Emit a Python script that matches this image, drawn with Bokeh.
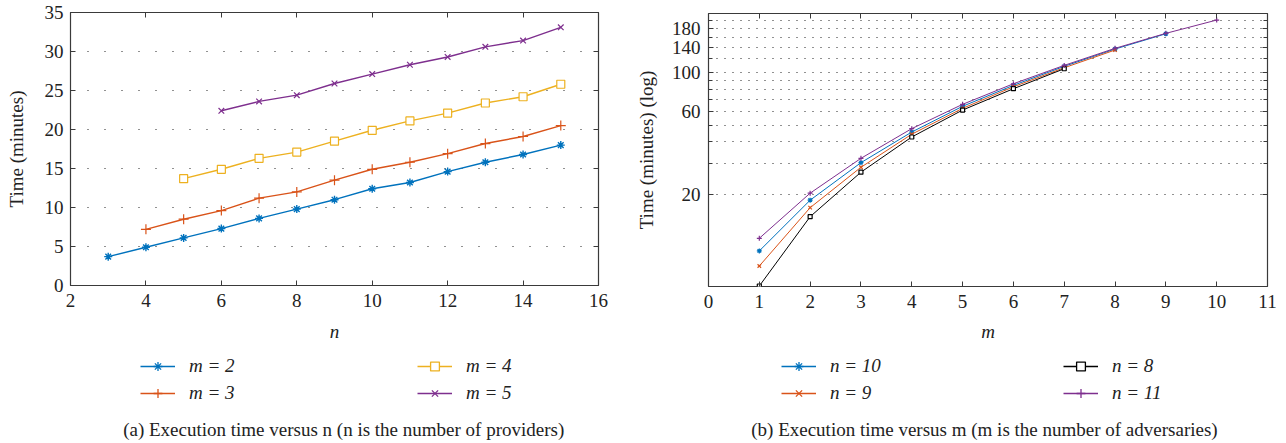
from bokeh.plotting import figure
from bokeh.models import (Legend, LegendItem, LinearAxis, Range1d, FixedTicker,
                          CustomJSTickFormatter, BasicTickFormatter)
from bokeh.layouts import row, column
from bokeh.core.properties import value
from bokeh.embed import file_html
from bokeh.resources import INLINE

SERIF = "Liberation Serif"
FS = "19px"
TXT = "#222222"
NAN = float("nan")

# ---------------- data: panel (a) ----------------
n_m2 = [3, 4, 5, 6, 7, 8, 9, 10, 11, 12, 13, 14, 15]
t_m2 = [3.7, 4.9, 6.1, 7.3, 8.6, 9.8, 11.0, 12.4, 13.2, 14.6, 15.8, 16.8, 18.0]
n_m3 = [4, 5, 6, 7, 8, 9, 10, 11, 12, 13, 14, 15]
t_m3 = [7.2, 8.5, 9.6, 11.2, 12.0, 13.5, 14.9, 15.8, 16.9, 18.2, 19.1, 20.5]
n_m4 = [5, 6, 7, 8, 9, 10, 11, 12, 13, 14, 15]
t_m4 = [13.7, 14.9, 16.3, 17.1, 18.5, 19.9, 21.1, 22.1, 23.4, 24.2, 25.8]
n_m5 = [6, 7, 8, 9, 10, 11, 12, 13, 14, 15]
t_m5 = [22.4, 23.6, 24.4, 25.9, 27.1, 28.3, 29.3, 30.6, 31.4, 33.1]
xticks_a = [2, 4, 6, 8, 10, 12, 14, 16]
yticks_a = [0, 5, 10, 15, 20, 25, 30, 35]
labels_a = ["m = 2", "m = 3", "m = 4", "m = 5"]
caption_a = "(a)  Execution time versus n (n is the number of providers)"

# ---------------- data: panel (b) ----------------
m_n10 = [1, 2, 3, 4, 5, 6, 7, 8, 9]
t_n10 = [9.45, 18.5, 30.4, 45.6, 64.1, 84.6, 108.8, 136.8, 167.5]
m_n9 = [1, 2, 3, 4, 5, 6, 7, 8]
t_n9 = [7.74, 16.75, 28.6, 44.3, 62.4, 83.0, 106.8, 135.0]
m_n8 = [1, 2, 3, 4, 5, 6, 7]
t_n8 = [5.94, 14.87, 26.8, 42.7, 61.0, 80.9, 105.4]
m_n11 = [1, 2, 3, 4, 5, 6, 7, 8, 9, 10]
t_n11 = [11.17, 20.3, 32.2, 47.7, 65.8, 86.4, 110.2, 138.1, 168.4, 200.8]
xticks_b = [0, 1, 2, 3, 4, 5, 6, 7, 8, 9, 10, 11]
yticks_b = [20, 60, 100, 140, 180]
yminor_b = [30, 40, 50, 70, 80, 90, 120, 160, 200]
labels_b = ["n = 10", "n = 9", "n = 8", "n = 11"]
caption_b = "(b)  Execution time versus m (m is the number of adversaries)"

BLUE, RED, YELLOW, PURPLE, BLACK = "#0072BD", "#D95319", "#EDB120", "#7E2F8E", "#000000"
FRAME = "#3a3a3a"


def style_axes(p):
    for ax in p.xaxis + p.yaxis:
        ax.axis_line_color = None
        ax.major_tick_in = 5
        ax.major_tick_out = 0
        ax.minor_tick_in = 0
        ax.minor_tick_out = 0
        ax.major_tick_line_color = FRAME
        ax.major_label_text_font = SERIF
        ax.major_label_text_font_size = FS
        ax.major_label_text_color = TXT
        ax.axis_label_text_font = SERIF
        ax.axis_label_text_font_size = FS
        ax.axis_label_text_color = TXT
    p.outline_line_color = FRAME
    p.outline_line_width = 1.2
    p.outline_line_alpha = 1


def mirror(p, side, ticks, minor=None, minor_len=0):
    ax = LinearAxis(ticker=FixedTicker(ticks=ticks, minor_ticks=minor or []),
                    formatter=CustomJSTickFormatter(code="return ''"),
                    major_label_text_font_size="0px", major_label_standoff=0,
                    major_tick_in=5, major_tick_out=0,
                    minor_tick_in=minor_len, minor_tick_out=0,
                    major_tick_line_color=FRAME, minor_tick_line_color=FRAME,
                    axis_line_color=None)
    p.add_layout(ax, side)


def legend_panel(width, height, specs, labels, label_width, lx, ly, caption, cx, cy):
    """A small axis-free canvas below a plot holding its two-column legend and caption."""
    q = figure(width=width, height=height, x_range=Range1d(0, width),
               y_range=Range1d(0, height), output_backend="svg",
               toolbar_location=None, min_border=0,
               x_axis_location=None, y_axis_location=None)
    q.grid.visible = False
    q.outline_line_color = None
    items = []
    for (color, marker, size, fill), lab in zip(specs, labels):
        # legend proxies (NaN data: nothing is drawn in the canvas itself)
        ln = q.line([NAN], [NAN], color=color, line_width=1.4)
        sc = q.scatter([NAN], [NAN], marker=marker, size=size, line_color=color,
                       fill_color=fill, line_width=1.3)
        items.append(LegendItem(label=lab, renderers=[ln, sc]))
    leg = Legend(items=items, location=(lx, ly), orientation="vertical", nrows=2,
                 glyph_width=35, glyph_height=22, label_height=22,
                 label_width=label_width, label_standoff=14, spacing=5,
                 padding=0, margin=0, border_line_color=None,
                 background_fill_alpha=0, label_text_font=SERIF,
                 label_text_font_size=FS, label_text_font_style="italic",
                 label_text_color=TXT)
    q.add_layout(leg, "center")
    q.text(x=[cx], y=[cy], text=[caption], text_font=value(SERIF),
           text_font_size=FS, text_color=TXT, text_baseline="alphabetic",
           text_align="left")
    return q


# ================= panel (a) =================
p1 = figure(width=632, height=347, x_range=Range1d(2, 16),
            y_range=Range1d(0, 35), output_backend="svg", toolbar_location=None,
            min_border_left=70, min_border_right=34, min_border_top=12,
            min_border_bottom=62)
p1.xaxis.ticker = FixedTicker(ticks=xticks_a)
p1.yaxis.ticker = FixedTicker(ticks=yticks_a)
p1.xaxis.axis_label = "n"
p1.xaxis.axis_label_text_font_style = "italic"
p1.yaxis.axis_label = "Time (minutes)"
p1.yaxis.axis_label_text_font_style = "normal"
style_axes(p1)
p1.xaxis.major_label_standoff = 8
p1.xaxis.axis_label_standoff = 11
p1.yaxis.major_label_standoff = 7
p1.yaxis.axis_label_standoff = 15
p1.xgrid.visible = False
p1.ygrid.grid_line_color = "#222222"
p1.ygrid.grid_line_dash = "1 16"
p1.ygrid.grid_line_width = 1.2
mirror(p1, "above", xticks_a)
mirror(p1, "right", yticks_a)

lw = 1.4
p1.line(n_m2, t_m2, color=BLUE, line_width=lw)
p1.scatter(n_m2, t_m2, marker="asterisk", size=8, line_color=BLUE, line_width=1.4)
p1.line(n_m3, t_m3, color=RED, line_width=lw)
p1.scatter(n_m3, t_m3, marker="cross", size=10, line_color=RED, line_width=1.2)
p1.line(n_m4, t_m4, color=YELLOW, line_width=lw)
p1.scatter(n_m4, t_m4, marker="square", size=8, line_color=YELLOW,
           fill_color="white", line_width=1.2)
p1.line(n_m5, t_m5, color=PURPLE, line_width=lw)
p1.scatter(n_m5, t_m5, marker="x", size=8, line_color=PURPLE, line_width=1.2)

q1 = legend_panel(632, 96,
                  [(BLUE, "asterisk", 10, None), (RED, "cross", 12, None),
                   (YELLOW, "square", 9, "white"), (PURPLE, "x", 9, None)],
                  labels_a, 223, 70, 39, caption_a, 63, 14)

# ================= panel (b) =================
p2 = figure(width=654, height=347, x_range=Range1d(0, 11),
            y_range=Range1d(5.9, 219), y_axis_type="log",
            output_backend="svg", toolbar_location=None,
            min_border_left=73, min_border_right=19, min_border_top=13,
            min_border_bottom=61)
p2.xaxis.ticker = FixedTicker(ticks=xticks_b)
p2.yaxis.ticker = FixedTicker(ticks=yticks_b, minor_ticks=yminor_b)
p2.yaxis.formatter = BasicTickFormatter()
p2.xaxis.axis_label = "m"
p2.xaxis.axis_label_text_font_style = "italic"
p2.yaxis.axis_label = "Time (minutes) (log)"
p2.yaxis.axis_label_text_font_style = "normal"
style_axes(p2)
p2.yaxis.minor_tick_in = 4
p2.yaxis.minor_tick_line_color = FRAME
p2.xaxis.major_label_standoff = 8
p2.xaxis.axis_label_standoff = 10
p2.yaxis.major_label_standoff = 8
p2.yaxis.axis_label_standoff = 12
p2.xgrid.visible = False
p2.ygrid.grid_line_color = "#222222"
p2.ygrid.grid_line_dash = "1 7"
p2.ygrid.grid_line_width = 1.1
p2.ygrid.minor_grid_line_color = "#222222"
p2.ygrid.minor_grid_line_dash = "1 7"
p2.ygrid.minor_grid_line_width = 1.1
mirror(p2, "above", xticks_b)
mirror(p2, "right", yticks_b, yminor_b, 4)

lw2 = 1.0
p2.line(m_n10, t_n10, color=BLUE, line_width=lw2)
p2.scatter(m_n10, t_n10, marker="asterisk", size=5, line_color=BLUE, line_width=1.2)
p2.line(m_n9, t_n9, color=RED, line_width=lw2)
p2.scatter(m_n9, t_n9, marker="x", size=5, line_color=RED, line_width=1.2)
p2.line(m_n8, t_n8, color=BLACK, line_width=lw2)
p2.scatter(m_n8, t_n8, marker="square", size=4, line_color=BLACK,
           fill_color="white", line_width=1.2)
p2.line(m_n11, t_n11, color=PURPLE, line_width=lw2)
p2.scatter(m_n11, t_n11, marker="cross", size=5, line_color=PURPLE, line_width=1.2)

q2 = legend_panel(654, 96,
                  [(BLUE, "asterisk", 10, None), (RED, "x", 9, None),
                   (BLACK, "square", 9, "white"), (PURPLE, "cross", 12, None)],
                  labels_b, 228, 73, 39, caption_b, 50, 14)

layout = row(column(p1, q1), column(p2, q2))
open("out.html", "w").write(file_html(layout, INLINE))
